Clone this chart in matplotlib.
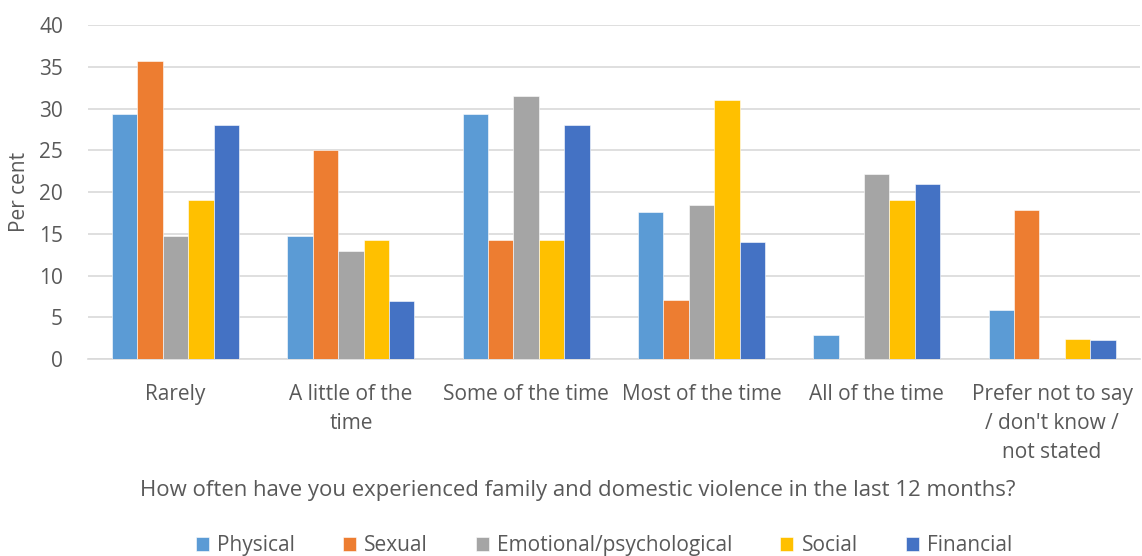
import numpy as np
import matplotlib
matplotlib.use('Agg')
import matplotlib.pyplot as plt

plt.rcParams['font.family'] = ['Open Sans', 'DejaVu Sans']

categories = ['Rarely', 'A little of the\ntime', 'Some of the time', 'Most of the time',
              'All of the time', "Prefer not to say\n/ don't know /\nnot stated"]
series = ['Physical', 'Sexual', 'Emotional/psychological', 'Social', 'Financial']
physical = [29.4, 14.7, 29.4, 17.6, 2.9, 5.9]
sexual = [35.7, 25.0, 14.3, 7.1, 0, 17.9]
emotional = [14.8, 13.0, 31.5, 18.5, 22.2, 0]
social = [19.0, 14.3, 14.3, 31.0, 19.0, 2.4]
financial = [28.0, 7.0, 28.0, 14.0, 21.0, 2.3]
colors = ['#5b9bd5', '#ed7d31', '#a5a5a5', '#ffc000', '#4472c4']

text_col = '#595959'
fig = plt.figure(figsize=(11.42, 5.56), dpi=100)
ax = fig.add_axes([0.077, 0.354, 0.921, 0.601])

x = np.arange(len(categories))
w = 0.145
for i, (name, vals) in enumerate(zip(series, [physical, sexual, emotional, social, financial])):
    ax.bar(x + (i - 2) * w, vals, w, color=colors[i], label=name, zorder=3,
           edgecolor='white', linewidth=0.4)

ax.set_xlim(-0.5, len(categories) - 0.5)
ax.set_ylim(0, 40)
ax.set_yticks(range(0, 41, 5))
ax.set_xticks(x)
ax.set_xticklabels(categories, fontsize=15, color=text_col, linespacing=1.5)
ax.tick_params(axis='y', labelsize=15, labelcolor=text_col, length=0, pad=18)
ax.tick_params(axis='x', length=0, pad=18)
ax.grid(axis='y', color='#d9d9d9', linewidth=1.2, zorder=0)
for s in ['top', 'right', 'left']:
    ax.spines[s].set_visible(False)
ax.spines['bottom'].set_color('#d9d9d9')
ax.spines['bottom'].set_linewidth(1.2)

ax.set_ylabel('Per cent', fontsize=15, color=text_col)
ax.yaxis.set_label_coords(-0.055, 0.5)
fig.text(0.506, 0.118, 'How often have you experienced family and domestic violence in the last 12 months?',
         ha='center', va='center', fontsize=15.9, color=text_col)

fig.legend(loc='center', bbox_to_anchor=(0.529, 0.018), ncol=5, frameon=False,
           fontsize=15, handlelength=0.62, handleheight=0.62, handletextpad=0.4,
           columnspacing=2.3, labelcolor=text_col)

fig.savefig('out.png', dpi=100)
